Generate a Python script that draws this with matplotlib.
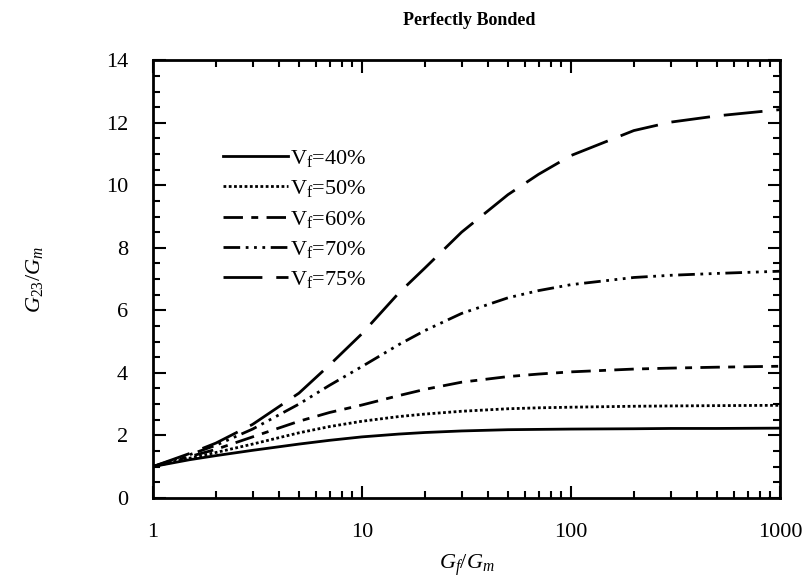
import matplotlib
matplotlib.use("Agg")
import matplotlib.pyplot as plt
from matplotlib.ticker import LogLocator, MultipleLocator, NullFormatter, FixedLocator, FixedFormatter

plt.rcParams['font.family'] = ['Liberation Serif', 'DejaVu Serif']
plt.rcParams['mathtext.fontset'] = 'custom'
plt.rcParams['mathtext.rm'] = 'Liberation Serif'
plt.rcParams['mathtext.it'] = 'Liberation Serif:italic'
plt.rcParams['mathtext.bf'] = 'Liberation Serif:bold'

# Data
gf_gm = [1, 1.5, 2, 3, 5, 7, 10, 15, 20, 30, 50, 70, 100, 200, 300, 500, 1000]
vf40 = [1.0, 1.22, 1.35, 1.52, 1.72, 1.84, 1.95, 2.04, 2.09, 2.14, 2.18, 2.19, 2.20, 2.21, 2.22, 2.22, 2.23]
vf50 = [1.0, 1.27, 1.45, 1.72, 2.08, 2.28, 2.45, 2.60, 2.68, 2.77, 2.85, 2.88, 2.90, 2.93, 2.94, 2.95, 2.96]
vf60 = [1.0, 1.32, 1.55, 1.95, 2.45, 2.73, 2.97, 3.27, 3.47, 3.70, 3.88, 3.96, 4.03, 4.12, 4.15, 4.18, 4.21]
vf70 = [1.0, 1.38, 1.68, 2.20, 3.00, 3.60, 4.20, 4.90, 5.35, 5.90, 6.40, 6.63, 6.82, 7.05, 7.12, 7.18, 7.25]
vf75 = [1.0, 1.42, 1.75, 2.35, 3.35, 4.25, 5.25, 6.55, 7.35, 8.50, 9.70, 10.35, 10.95, 11.75, 12.02, 12.22, 12.42]

series = [vf40, vf50, vf60, vf70, vf75]
labels = ['V$_\\mathrm{f}$=40%', 'V$_\\mathrm{f}$=50%', 'V$_\\mathrm{f}$=60%',
          'V$_\\mathrm{f}$=70%', 'V$_\\mathrm{f}$=75%']
styles = ['-', (0, (1.0, 0.9)), (0, (7, 3, 2.5, 3)), (0, (6, 2, 1, 2, 1, 2, 1, 2)), (0, (14, 5))]

fig = plt.figure(figsize=(8.09, 5.85), dpi=100)
ax = fig.add_axes([0.189, 0.149, 0.775, 0.748])

for y, lab, ls in zip(series, labels, styles):
    ax.plot(gf_gm, y, color='black', lw=2.0, linestyle=ls, label=lab)

ax.set_xscale('log')
ax.set_xlim(1, 1000)
ax.set_ylim(0, 14)
ax.xaxis.set_major_locator(FixedLocator([1, 10, 100, 1000]))
ax.xaxis.set_major_formatter(FixedFormatter(['1', '10', '100', '1000']))
ax.xaxis.set_minor_locator(LogLocator(base=10, subs=range(2, 10)))
ax.xaxis.set_minor_formatter(NullFormatter())
ax.yaxis.set_major_locator(MultipleLocator(2))
ax.yaxis.set_minor_locator(MultipleLocator(0.5))

ax.tick_params(which='both', direction='in', top=True, right=True, width=1.5,
               labelsize=16)
ax.tick_params(axis='y', pad=18)
ax.tick_params(axis='x', pad=18)
ax.tick_params(which='major', length=9)
ax.tick_params(which='minor', length=5)
for s in ax.spines.values():
    s.set_linewidth(2)

ax.set_xlabel('$G_f/G_m$', fontsize=16, labelpad=8)
ax.set_ylabel('$G_{23}/G_m$', fontsize=16, labelpad=44)
fig.text(0.58, 0.965, 'Perfectly Bonded', ha='center', va='center',
         fontsize=13, fontweight='bold')

leg = ax.legend(loc='upper left', bbox_to_anchor=(0.098, 0.82), frameon=False,
                fontsize=16, handlelength=2.9, handletextpad=0.1,
                labelspacing=0.42, borderaxespad=0)

fig.savefig('out.png', dpi=100)
